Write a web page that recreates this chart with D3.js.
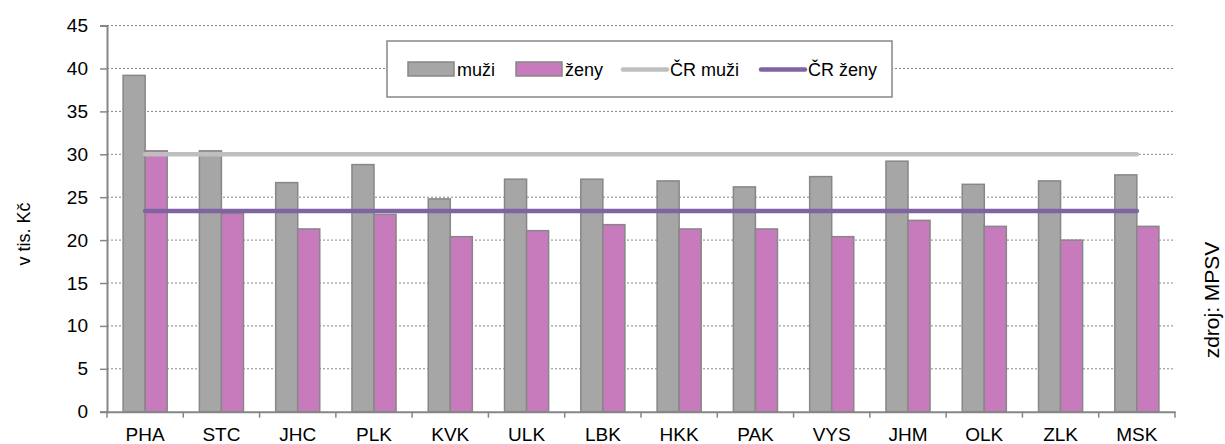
<!DOCTYPE html>
<html>
<head>
<meta charset="utf-8">
<script src="https://cdn.jsdelivr.net/npm/d3@7"></script>
<style>
  body { margin: 0; background: #fff; }
  text { font-family: 'Liberation Sans', Arial, sans-serif; fill: #000; }
</style>
</head>
<body>
<div id="chart"></div>
<script>
const regions = ['PHA', 'STC', 'JHC', 'PLK', 'KVK', 'ULK', 'LBK', 'HKK', 'PAK', 'VYS', 'JHM', 'OLK', 'ZLK', 'MSK']
const muzi = [39.2, 30.4, 26.7, 28.8, 24.8, 27.1, 27.1, 26.9, 26.2, 27.4, 29.2, 26.5, 26.9, 27.6]
const zeny = [30.4, 23.1, 21.3, 23.0, 20.4, 21.1, 21.8, 21.3, 21.3, 20.4, 22.3, 21.6, 20.0, 21.6]
const crMuzi = 30.0
const crZeny = 23.4
const yTicks = [0, 5, 10, 15, 20, 25, 30, 35, 40, 45]
const legendItems = ['muži', 'ženy', 'ČR muži', 'ČR ženy']

const margin = { top: 25.6, right: 50, bottom: 32.3, left: 107 }
const totalWidth = 1225
const totalHeight = 444
const width = totalWidth - margin.left - margin.right
const height = totalHeight - margin.top - margin.bottom

const colors = {
  muzi: '#a6a6a6',
  zeny: '#c77bbd',
  crMuzi: '#bfbfbf',
  crZeny: '#8064a2',
  edge: '#878787',
  axis: '#868686'
}

const root = d3
  .select('#chart')
  .append('svg')
  .attr('width', totalWidth)
  .attr('height', totalHeight)

const svg = root
  .append('g')
  .attr('transform', 'translate(' + margin.left + ',' + margin.top + ')')

const xPositionScale = d3
  .scaleBand()
  .domain(regions)
  .range([0, width])

const xInner = d3
  .scaleBand()
  .domain(['muzi', 'zeny'])
  .range([0, xPositionScale.bandwidth()])
  .paddingOuter(0.73)

const yPositionScale = d3
  .scaleLinear()
  .domain([0, 45])
  .range([height, 0])

// gridlines
svg
  .selectAll('.grid')
  .data(yTicks.filter(d => d > 0))
  .enter()
  .append('line')
  .attr('class', 'grid')
  .attr('x1', 0)
  .attr('x2', width)
  .attr('y1', d => yPositionScale(d))
  .attr('y2', d => yPositionScale(d))
  .attr('stroke', colors.axis)
  .attr('stroke-width', 1)
  .attr('stroke-dasharray', '2,2')

// bars
const datapoints = regions.map((r, i) => ({ region: r, muzi: muzi[i], zeny: zeny[i] }))

const groups = svg
  .selectAll('.region')
  .data(datapoints)
  .enter()
  .append('g')
  .attr('class', 'region')
  .attr('transform', d => 'translate(' + xPositionScale(d.region) + ',0)')

;['muzi', 'zeny'].forEach(key => {
  groups
    .append('rect')
    .attr('x', xInner(key))
    .attr('width', xInner.bandwidth())
    .attr('y', d => yPositionScale(d[key]))
    .attr('height', d => height - yPositionScale(d[key]))
    .attr('fill', colors[key])
    .attr('stroke', colors.edge)
    .attr('stroke-width', 1.5)
})

// ČR lines
const xFirst = xPositionScale(regions[0]) + xPositionScale.bandwidth() / 2
const xLast = xPositionScale(regions[regions.length - 1]) + xPositionScale.bandwidth() / 2

svg
  .append('line')
  .attr('x1', xFirst)
  .attr('x2', xLast)
  .attr('y1', yPositionScale(crMuzi))
  .attr('y2', yPositionScale(crMuzi))
  .attr('stroke', colors.crMuzi)
  .attr('stroke-width', 4.5)
  .attr('stroke-linecap', 'round')

svg
  .append('line')
  .attr('x1', xFirst)
  .attr('x2', xLast)
  .attr('y1', yPositionScale(crZeny))
  .attr('y2', yPositionScale(crZeny))
  .attr('stroke', colors.crZeny)
  .attr('stroke-width', 4.5)
  .attr('stroke-linecap', 'round')

// axes
const yAxis = d3.axisLeft(yPositionScale).tickValues(yTicks).tickSize(7).tickPadding(12)
svg
  .append('g')
  .attr('class', 'axis y-axis')
  .call(yAxis)

const xAxis = d3.axisBottom(xPositionScale).tickSize(0).tickPadding(20)
const xg = svg
  .append('g')
  .attr('class', 'axis x-axis')
  .attr('transform', 'translate(0,' + height + ')')
  .call(xAxis)

// tick marks between categories
xg.selectAll('.sep')
  .data(d3.range(regions.length + 1))
  .enter()
  .append('line')
  .attr('class', 'sep')
  .attr('x1', i => i * xPositionScale.step())
  .attr('x2', i => i * xPositionScale.step())
  .attr('y1', 0)
  .attr('y2', 6)
  .attr('stroke', colors.axis)
  .attr('stroke-width', 1.5)

root.selectAll('.axis path, .axis line').attr('stroke', colors.axis).attr('stroke-width', 1.5)
root.selectAll('.axis .domain').attr('stroke-width', 2)
root.selectAll('.axis text').attr('font-size', 19).attr('font-family', "'Liberation Sans', Arial, sans-serif").attr('fill', '#000')
xg.selectAll('.tick text').attr('dy', null).attr('y', 29.5)

// axis title
root
  .append('text')
  .attr('transform', 'translate(30,234) rotate(-90)')
  .attr('text-anchor', 'middle')
  .attr('font-size', 18)
  .text('v tis. Kč')

// source
root
  .append('text')
  .attr('transform', 'translate(1219,300) rotate(-90)')
  .attr('text-anchor', 'middle')
  .attr('font-size', 21)
  .text('zdroj: MPSV')

// legend
const legend = root.append('g').attr('transform', 'translate(387,41)')
legend
  .append('rect')
  .attr('width', 505)
  .attr('height', 56)
  .attr('fill', '#fff')
  .attr('stroke', colors.axis)
  .attr('stroke-width', 1.5)

const legendX = [21, 129, 234, 372]
legendItems.forEach((label, i) => {
  const g = legend.append('g').attr('transform', 'translate(' + legendX[i] + ',0)')
  if (i < 2) {
    g.append('rect')
      .attr('x', 0)
      .attr('y', 21)
      .attr('width', 46)
      .attr('height', 14)
      .attr('fill', i === 0 ? colors.muzi : colors.zeny)
      .attr('stroke', colors.edge)
      .attr('stroke-width', 1.5)
  } else {
    g.append('line')
      .attr('x1', 2)
      .attr('x2', 46)
      .attr('y1', 28.5)
      .attr('y2', 28.5)
      .attr('stroke', i === 2 ? colors.crMuzi : colors.crZeny)
      .attr('stroke-width', 4.5)
      .attr('stroke-linecap', 'round')
  }
  g.append('text')
    .attr('x', 49)
    .attr('y', 35)
    .attr('font-size', 18)
    .text(label)
})
</script>
</body>
</html>
